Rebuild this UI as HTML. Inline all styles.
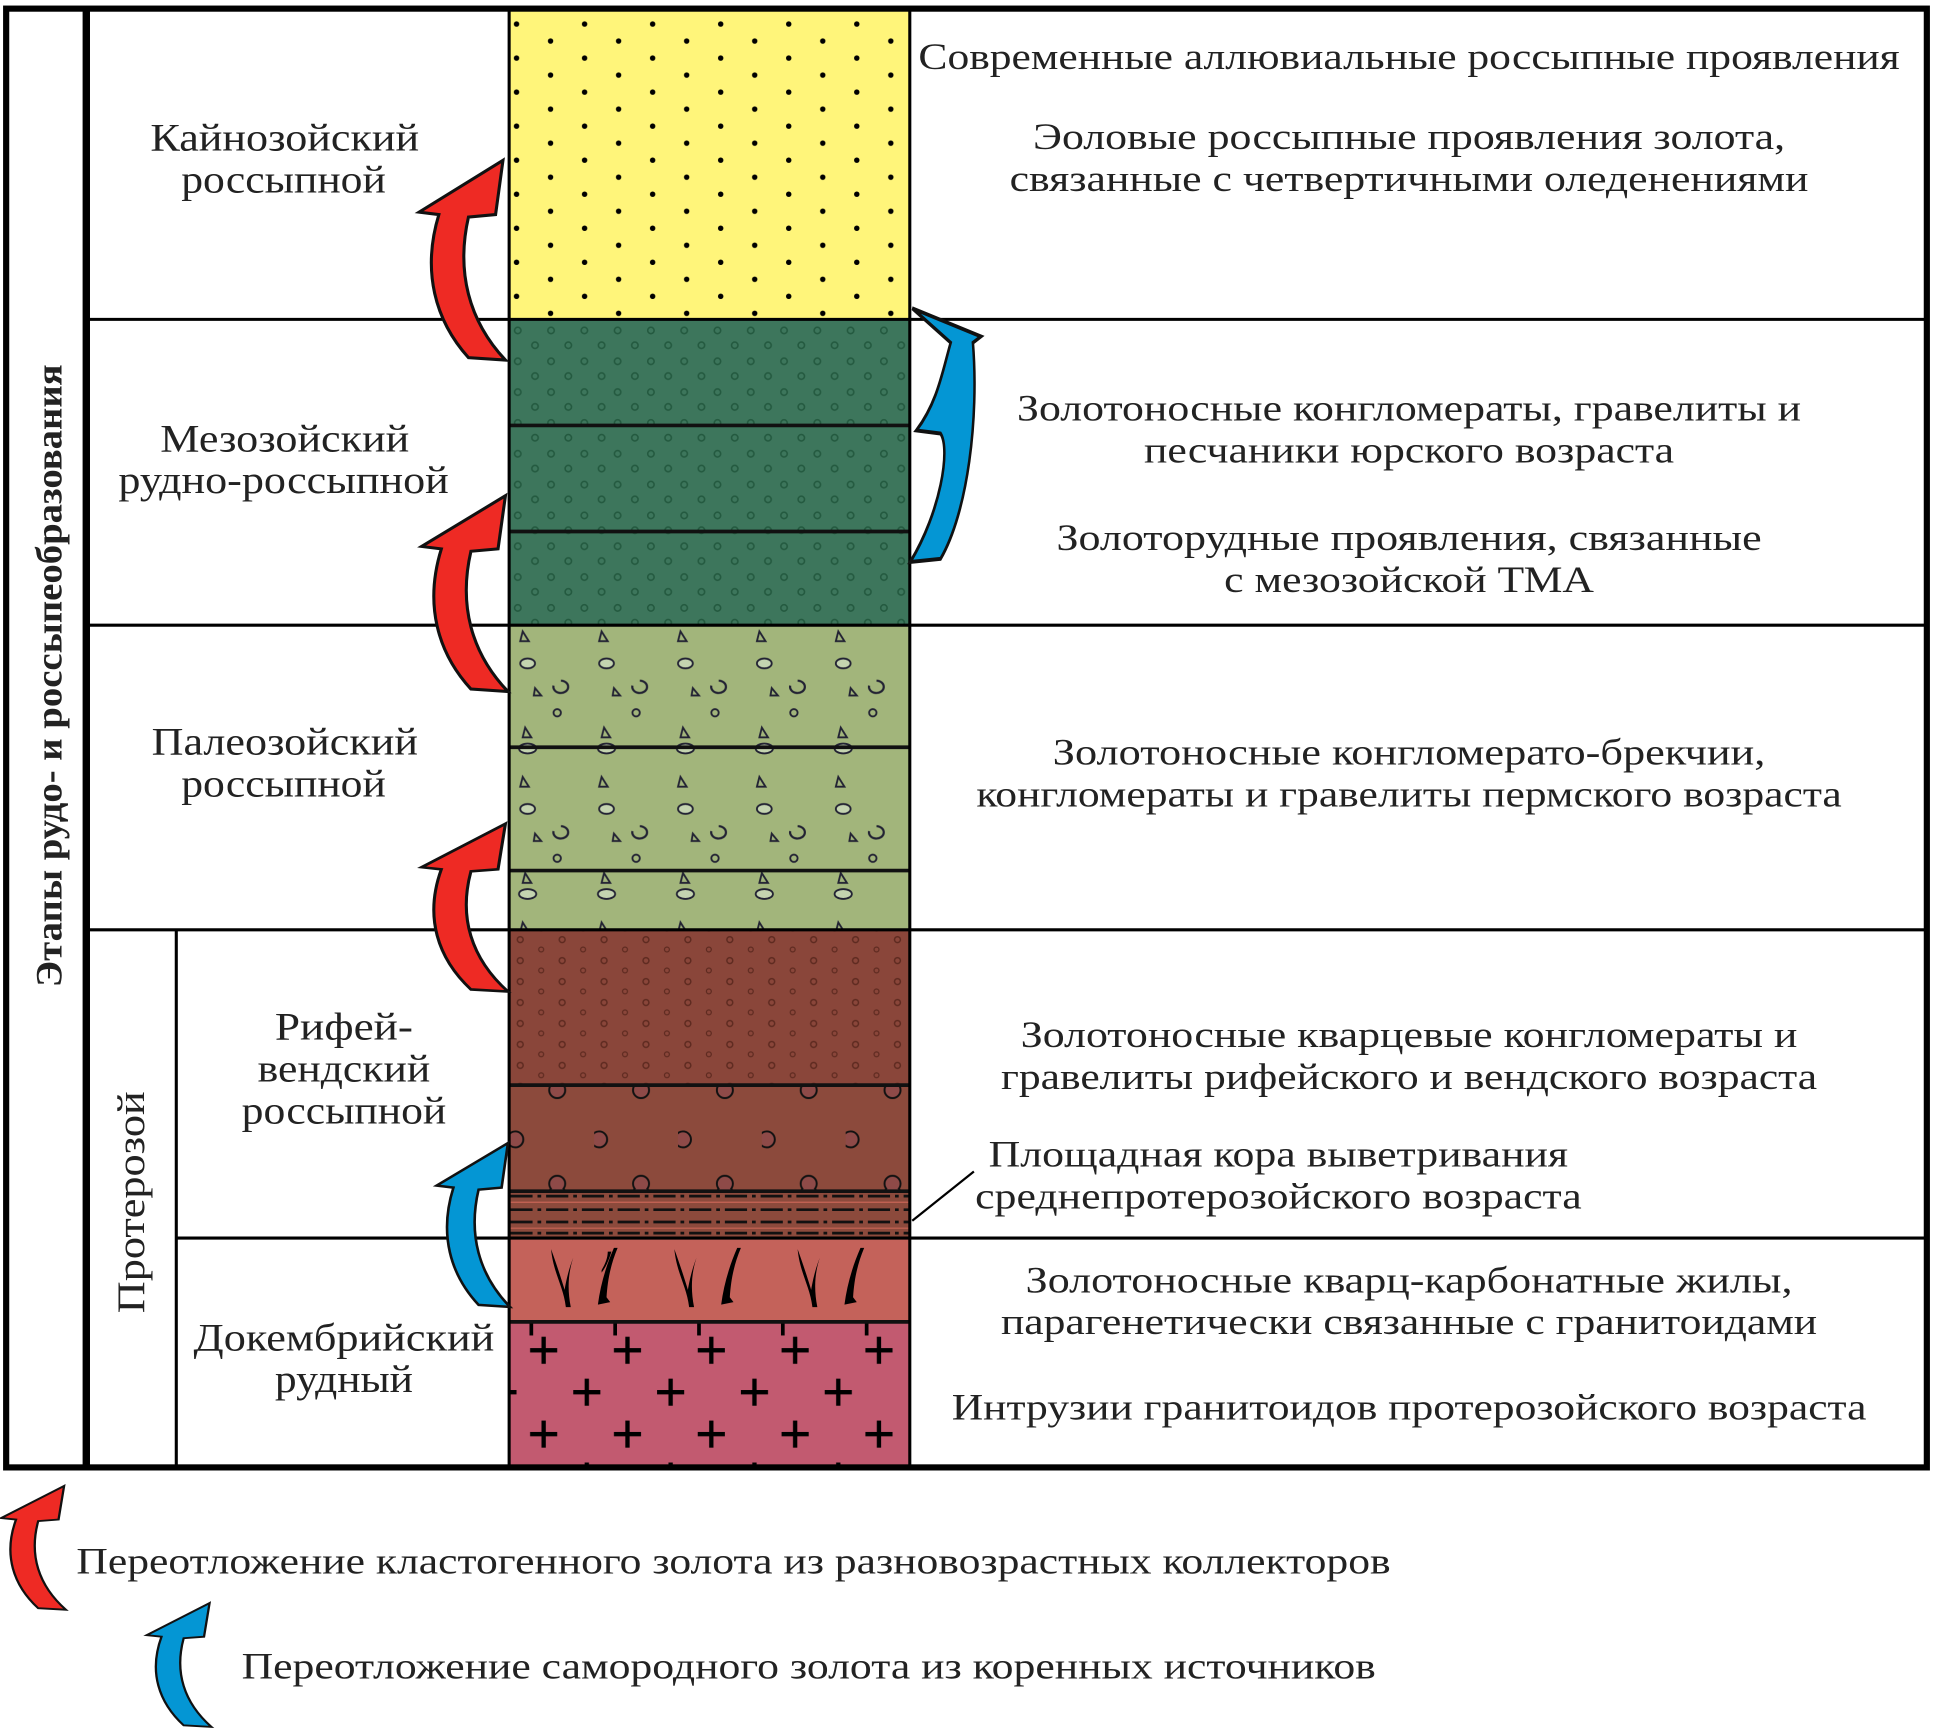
<!DOCTYPE html>
<html><head><meta charset="utf-8"><style>
html,body{margin:0;padding:0;background:#fff}
svg{display:block}
text{font-family:"Liberation Serif","DejaVu Serif",serif;fill:#222}
</style></head><body>
<svg width="1933" height="1735" viewBox="0 0 1568 1407" preserveAspectRatio="none" xmlns="http://www.w3.org/2000/svg">
<defs>
<pattern id="pY" width="55.2" height="27.6" patternUnits="userSpaceOnUse" x="416" y="16.5">
<circle cx="3" cy="3" r="2.2" fill="#000"/>
<circle cx="30.6" cy="16.8" r="2.2" fill="#000"/>
</pattern>
<pattern id="pG" width="27" height="25" patternUnits="userSpaceOnUse" x="414" y="262">
<circle cx="6" cy="6" r="2.6" fill="none" stroke="#245a40" stroke-width="1.3"/>
<circle cx="20" cy="18" r="2.6" fill="none" stroke="#245a40" stroke-width="1.3"/>
</pattern>
<pattern id="pL" width="64" height="118" patternUnits="userSpaceOnUse" x="414" y="508">
<path d="M10,4 l5,8 l-7,0 z" fill="none" stroke="#223" stroke-width="1.5"/>
<ellipse cx="14" cy="30" rx="6" ry="4" fill="#c4d4b0" stroke="#223" stroke-width="1.5"/>
<path d="M35,48 a6,5 0 1,0 6,-4" fill="none" stroke="#223" stroke-width="1.8"/>
<path d="M20,50 l5,6 l-6,0 z" fill="none" stroke="#223" stroke-width="1.5"/>
<circle cx="38" cy="70" r="3" fill="none" stroke="#223" stroke-width="1.5"/>
<path d="M12,82 l5,8 l-7,0 z" fill="none" stroke="#223" stroke-width="1.5"/>
<ellipse cx="14" cy="99" rx="7" ry="4" fill="#c4d4b0" stroke="#223" stroke-width="1.5"/>
</pattern>
<pattern id="pB" width="34" height="17" patternUnits="userSpaceOnUse" x="414" y="757">
<circle cx="8" cy="5" r="2.4" fill="none" stroke="#5e2a20" stroke-width="1.2"/>
<circle cx="25" cy="13" r="2" fill="none" stroke="#5e2a20" stroke-width="1"/>
</pattern>
<pattern id="pC" width="68" height="84" patternUnits="userSpaceOnUse" x="414" y="880">
<circle cx="38" cy="4" r="6.5" fill="#8e4a48" stroke="#111" stroke-width="1.6"/>
<circle cx="4" cy="44" r="6.5" fill="#8e4a48" stroke="#111" stroke-width="1.6"/>
<circle cx="38" cy="80" r="6.5" fill="#8e4a48" stroke="#111" stroke-width="1.6"/>
</pattern>
<pattern id="pP" width="68" height="68" patternUnits="userSpaceOnUse" x="397" y="1073">
<path d="M33,22 h22 M44,11 v22 M0,56 h22 M11,45 v22" stroke="#000" stroke-width="3.5"/>
</pattern>
</defs>

<rect x="413" y="8" width="325" height="251" fill="#fff57a"/>
<rect x="413" y="8" width="325" height="251" fill="url(#pY)"/>
<rect x="413" y="259" width="325" height="248" fill="#3d765c"/>
<rect x="413" y="259" width="325" height="248" fill="url(#pG)"/>
<rect x="413" y="507" width="325" height="247" fill="#a2b57b"/>
<rect x="413" y="507" width="325" height="247" fill="url(#pL)"/>
<rect x="413" y="754" width="325" height="126" fill="#8a463a"/>
<rect x="413" y="754" width="325" height="126" fill="url(#pB)"/>
<rect x="413" y="880" width="325" height="86" fill="#8c4a3c"/>
<rect x="413" y="880" width="325" height="86" fill="url(#pC)"/>
<rect x="413" y="966" width="325" height="38" fill="#8c4a3c"/>
<g stroke="#111" stroke-width="2.2" stroke-dasharray="18,4,3,4">
<line x1="414" y1="970" x2="737" y2="970"/><line x1="414" y1="981" x2="737" y2="981"/>
<line x1="414" y1="991" x2="737" y2="991"/><line x1="414" y1="1000" x2="737" y2="1000"/>
</g>
<g stroke="#e07060" stroke-width="1" opacity="0.7">
<line x1="414" y1="975" x2="737" y2="975"/><line x1="414" y1="996" x2="737" y2="996"/>
</g>
<rect x="413" y="1004" width="325" height="68" fill="#c4625a"/>
<g fill="#000">
<path d="M447,1013 c2,20 10,30 12,47 l4,0 c-3,-15 -2,-28 2,-40 c-4,10 -6,20 -7,26 c-3,-10 -7,-22 -11,-33 z"/>
<path d="M485,1058 c2,-15 6,-30 13,-46 l3,0 c-5,12 -8,24 -9,40 l3,4 z M488,1030 c3,-5 5,-10 5,-15 l3,0 c-2,6 -4,12 -8,17 z"/>
</g>
<g fill="#000" transform="translate(100,0)">
<path d="M447,1013 c2,20 10,30 12,47 l4,0 c-3,-15 -2,-28 2,-40 c-4,10 -6,20 -7,26 c-3,-10 -7,-22 -11,-33 z"/>
<path d="M485,1058 c2,-15 6,-30 13,-46 l3,0 c-5,12 -8,24 -9,40 l3,4 z"/>
</g>
<g fill="#000" transform="translate(200,0)">
<path d="M447,1013 c2,20 10,30 12,47 l4,0 c-3,-15 -2,-28 2,-40 c-4,10 -6,20 -7,26 c-3,-10 -7,-22 -11,-33 z"/>
<path d="M485,1058 c2,-15 6,-30 13,-46 l3,0 c-5,12 -8,24 -9,40 l3,4 z"/>
</g>
<rect x="413" y="1072" width="325" height="116" fill="#c25a70"/>
<rect x="413" y="1072" width="325" height="116" fill="url(#pP)"/>
<g stroke="#000" stroke-width="3"><line x1="431" y1="1072" x2="431" y2="1083"/><line x1="499" y1="1072" x2="499" y2="1083"/><line x1="567" y1="1072" x2="567" y2="1083"/><line x1="635" y1="1072" x2="635" y2="1083"/><line x1="703" y1="1072" x2="703" y2="1083"/></g>

<g stroke="#111" stroke-width="3">
<line x1="413" y1="345" x2="738" y2="345"/><line x1="413" y1="431" x2="738" y2="431"/>
<line x1="413" y1="606" x2="738" y2="606"/><line x1="413" y1="706" x2="738" y2="706"/>
<line x1="413" y1="880" x2="738" y2="880"/><line x1="413" y1="966" x2="738" y2="966"/>
<line x1="413" y1="1072" x2="738" y2="1072"/>
</g>

<g stroke="#000" stroke-width="2.5" fill="none">
<line x1="72" y1="259" x2="1563" y2="259"/>
<line x1="72" y1="507" x2="1563" y2="507"/>
<line x1="72" y1="754" x2="1563" y2="754"/>
<line x1="143" y1="1004" x2="1563" y2="1004"/>
<line x1="143" y1="754" x2="143" y2="1188"/>
<line x1="413" y1="8" x2="413" y2="1188"/>
<line x1="738" y1="8" x2="738" y2="1188"/>
<line x1="740" y1="990" x2="790" y2="950" stroke-width="1.8"/>
</g>
<rect x="5" y="7" width="1558" height="1183" fill="none" stroke="#000" stroke-width="5"/>
<line x1="70" y1="7" x2="70" y2="1190" stroke="#000" stroke-width="6"/>

<g stroke="#111" stroke-width="2.5" stroke-linejoin="miter">
<path transform="translate(408,130) scale(1,1)" fill="#ee2a24" d="M0,0 L-68,42 L-52,44 C-66,90 -55,130 -28,160 L2,162 C-28,130 -38,90 -28,46 L-6,44 Z"/>
<path transform="translate(410,402) scale(1,0.98)" fill="#ee2a24" d="M0,0 L-68,42 L-52,44 C-66,90 -55,130 -28,160 L2,162 C-28,130 -38,90 -28,46 L-6,44 Z"/>
<path transform="translate(410,668) scale(1,0.84)" fill="#ee2a24" d="M0,0 L-68,42 L-52,44 C-66,90 -55,130 -28,160 L2,162 C-28,130 -38,90 -28,46 L-6,44 Z"/>
<path transform="translate(412,927) scale(0.85,0.82)" fill="#0496d4" d="M0,0 L-68,42 L-52,44 C-66,90 -55,130 -28,160 L2,162 C-28,130 -38,90 -28,46 L-6,44 Z"/>
<path transform="translate(740,250) scale(-0.82,1.27)" fill="#0496d4" d="M0,0 L-68,18 L-60,22 C-66,70 -55,130 -28,160 L2,162 C-28,130 -38,90 -28,80 L-4,78 C-25,60 -30,40 -38,22 Z"/>
<path transform="translate(52,1205) scale(0.75,0.62)" fill="#ee2a24" d="M0,0 L-68,42 L-52,44 C-66,90 -55,130 -28,160 L2,162 C-28,130 -38,90 -28,46 L-6,44 Z"/>
<path transform="translate(170,1300) scale(0.75,0.62)" fill="#0496d4" d="M0,0 L-68,42 L-52,44 C-66,90 -55,130 -28,160 L2,162 C-28,130 -38,90 -28,46 L-6,44 Z"/>
</g>

<text transform="translate(50,548) rotate(-90)" text-anchor="middle" font-size="30" font-weight="bold" textLength="505" lengthAdjust="spacingAndGlyphs">Этапы рудо- и россыпеобразования</text>
<text transform="translate(117,975) rotate(-90)" text-anchor="middle" font-size="32" textLength="180" lengthAdjust="spacingAndGlyphs">Протерозой</text>

<g font-size="32" text-anchor="middle">
<text x="231" y="122" textLength="218" lengthAdjust="spacingAndGlyphs">Кайнозойский</text><text x="230" y="156" textLength="166" lengthAdjust="spacingAndGlyphs">россыпной</text>
<text x="231" y="366" textLength="202" lengthAdjust="spacingAndGlyphs">Мезозойский</text><text x="230" y="400" textLength="268" lengthAdjust="spacingAndGlyphs">рудно-россыпной</text>
<text x="231" y="612" textLength="216" lengthAdjust="spacingAndGlyphs">Палеозойский</text><text x="230" y="646" textLength="166" lengthAdjust="spacingAndGlyphs">россыпной</text>
<text x="279" y="843" textLength="112" lengthAdjust="spacingAndGlyphs">Рифей-</text><text x="279" y="877" textLength="140" lengthAdjust="spacingAndGlyphs">вендский</text><text x="279" y="911" textLength="166" lengthAdjust="spacingAndGlyphs">россыпной</text>
<text x="279" y="1095" textLength="244" lengthAdjust="spacingAndGlyphs">Докембрийский</text><text x="279" y="1129" textLength="112" lengthAdjust="spacingAndGlyphs">рудный</text>
</g>

<g font-size="30" text-anchor="middle">
<text x="1143" y="56" textLength="796" lengthAdjust="spacingAndGlyphs">Современные аллювиальные россыпные проявления</text>
<text x="1143" y="121" textLength="610" lengthAdjust="spacingAndGlyphs">Эоловые россыпные проявления золота,</text>
<text x="1143" y="155" textLength="648" lengthAdjust="spacingAndGlyphs">связанные с четвертичными оледенениями</text>
<text x="1143" y="341" textLength="636" lengthAdjust="spacingAndGlyphs">Золотоносные конгломераты, гравелиты и</text>
<text x="1143" y="375" textLength="430" lengthAdjust="spacingAndGlyphs">песчаники юрского возраста</text>
<text x="1143" y="446" textLength="572" lengthAdjust="spacingAndGlyphs">Золоторудные проявления, связанные</text>
<text x="1143" y="480" textLength="300" lengthAdjust="spacingAndGlyphs">с мезозойской ТМА</text>
<text x="1143" y="620" textLength="578" lengthAdjust="spacingAndGlyphs">Золотоносные конгломерато-брекчии,</text>
<text x="1143" y="654" textLength="702" lengthAdjust="spacingAndGlyphs">конгломераты и гравелиты пермского возраста</text>
<text x="1143" y="849" textLength="630" lengthAdjust="spacingAndGlyphs">Золотоносные кварцевые конгломераты и</text>
<text x="1143" y="883" textLength="662" lengthAdjust="spacingAndGlyphs">гравелиты рифейского и вендского возраста</text>
<text x="1037" y="946" textLength="470" lengthAdjust="spacingAndGlyphs">Площадная кора выветривания</text>
<text x="1037" y="980" textLength="492" lengthAdjust="spacingAndGlyphs">среднепротерозойского возраста</text>
<text x="1143" y="1048" textLength="622" lengthAdjust="spacingAndGlyphs">Золотоносные кварц-карбонатные жилы,</text>
<text x="1143" y="1082" textLength="662" lengthAdjust="spacingAndGlyphs">парагенетически связанные с гранитоидами</text>
<text x="1143" y="1151" textLength="742" lengthAdjust="spacingAndGlyphs">Интрузии гранитоидов протерозойского возраста</text>
</g>

<g font-size="30">
<text x="62" y="1276" textLength="1066" lengthAdjust="spacingAndGlyphs">Переотложение кластогенного золота из разновозрастных коллекторов</text>
<text x="196" y="1361" textLength="920" lengthAdjust="spacingAndGlyphs">Переотложение самородного золота из коренных источников</text>
</g>
</svg>
</body></html>
